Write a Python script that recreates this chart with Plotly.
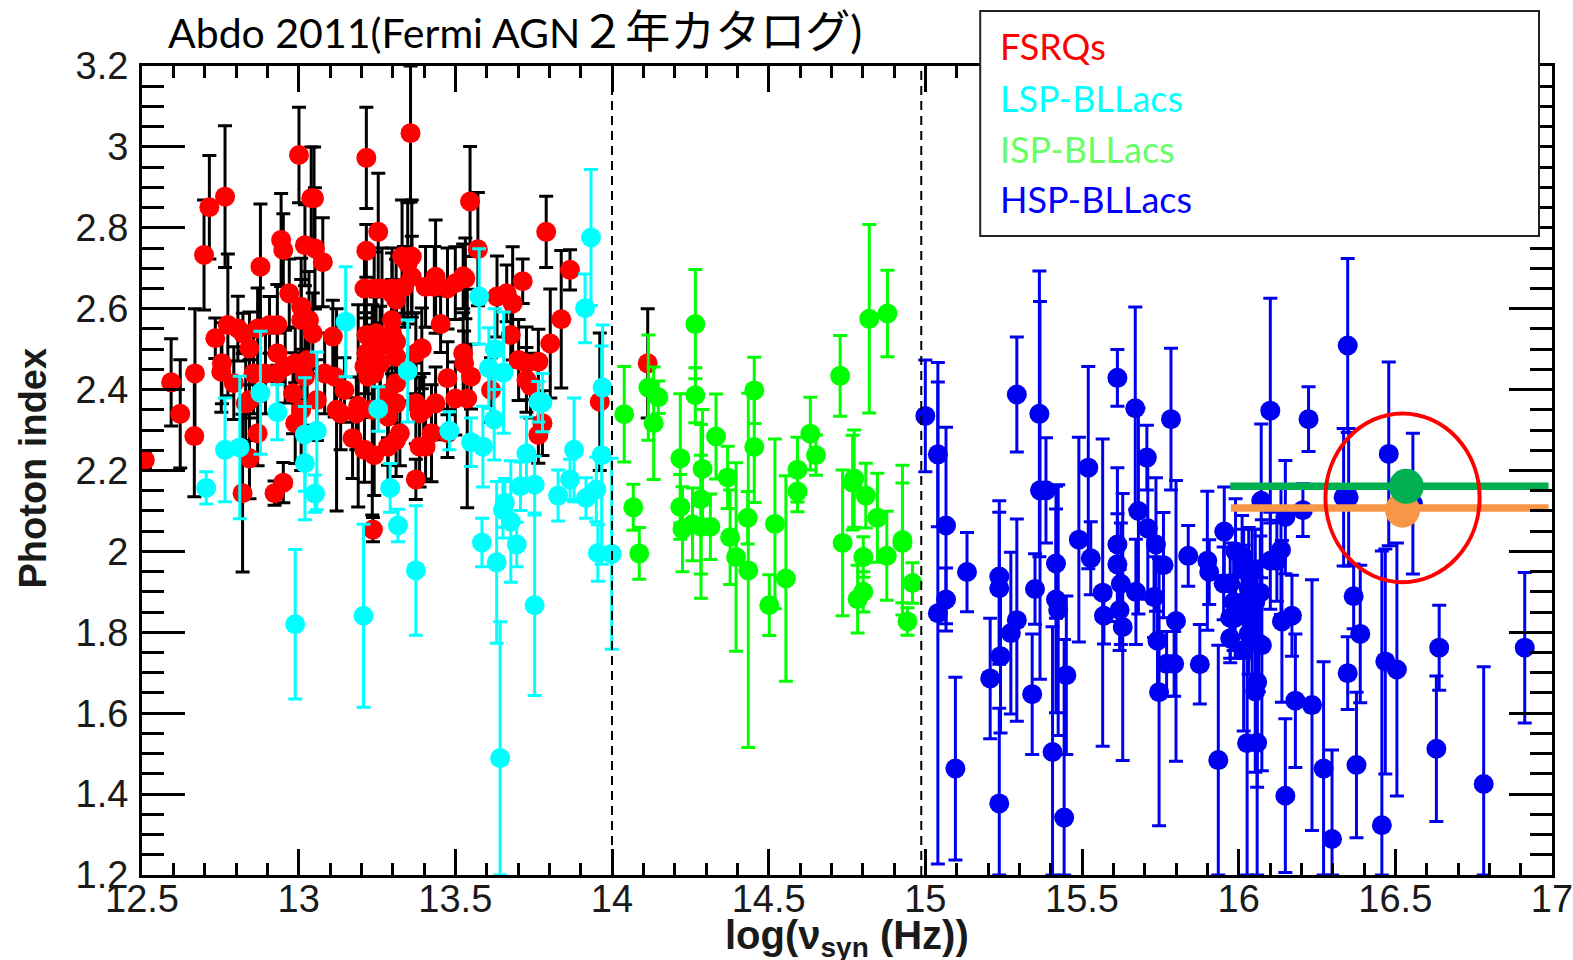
import plotly.graph_objects as go

# ---- FSRQs ----
fsrq_x = [12.509,12.593,12.622,12.669,12.667,12.698,12.715,12.765,12.774,12.734,12.753,12.755,12.878,12.822,12.843,12.907,13.001,13.049,13.04,13.02,12.944,12.951,13.052,13.077,12.97,13.008,13.033,12.932,13.109,12.989,13.027,13.115,12.894,12.843,12.793,12.869,12.982,12.989,13.058,13.146,13.134,13.184,13.172,13.241,13.216,13.216,13.216,13.254,13.216,13.357,13.33,13.361,13.348,13.21,13.266,13.336,13.361,13.298,13.311,13.298,13.393,13.222,13.26,13.311,13.311,13.311,13.323,13.386,13.437,13.5,13.538,13.405,13.475,13.475,13.437,13.433,13.532,13.475,13.547,13.572,13.453,13.528,13.55,13.633,13.683,13.677,13.715,13.79,13.866,13.838,13.803,13.702,13.765,13.727,13.778,13.765,13.614,13.961,12.843,12.923,12.951,12.821,13.237,13.374,13.121,13.19,13.235,14.114,
          12.869,12.806,12.932,13.008,13.045,12.957,12.932,13.02,13.083,13.008,12.856,12.831,13.247,13.26,13.21,13.241,13.285,13.285,13.311,13.285,13.21,13.374,13.399,13.424,13.386,13.525,13.727,13.74,13.664,13.298,13.311,13.374,
          13.241,13.298,13.405,13.5,13.525]
fsrq_y = [2.226,2.418,2.34,2.44,2.285,2.733,2.851,2.877,2.56,2.527,2.444,2.465,2.704,2.539,2.502,2.56,2.98,2.873,2.873,2.757,2.77,2.745,2.749,2.715,2.638,2.572,2.572,2.49,2.531,2.465,2.473,2.432,2.44,2.374,2.416,2.292,2.391,2.317,2.374,2.399,2.341,2.341,2.28,2.238,2.535,2.49,2.973,2.79,2.743,3.034,2.729,2.729,2.712,2.65,2.65,2.654,2.679,2.572,2.622,2.539,2.502,2.432,2.465,2.481,2.416,2.366,2.292,2.341,2.366,2.378,2.378,2.259,2.292,2.428,2.679,2.654,2.675,2.65,2.865,2.747,2.562,2.465,2.432,2.63,2.613,2.535,2.668,2.79,2.696,2.574,2.514,2.473,2.469,2.424,2.317,2.288,2.399,2.37,2.23,2.144,2.17,2.144,2.054,2.178,2.35,2.36,2.35,2.465,
          2.551,2.551,2.56,2.605,2.539,2.457,2.44,2.432,2.44,2.35,2.44,2.366,2.539,2.506,2.457,2.44,2.391,2.333,2.275,2.259,2.251,2.366,2.35,2.292,2.259,2.49,2.465,2.41,2.638,2.638,2.518,2.49,
          2.65,2.65,2.654,2.663,2.68]
fsrq_err = [0.02,0.108,0.134,0.16,0.15,0.136,0.128,0.175,0.175,0.05,0.1,0.1,0.155,0.05,0.09,0.07,0.118,0.127,0.127,0.1,0.115,0.09,0.15,0.11,0.085,0.1,0.12,0.07,0.09,0.09,0.1,0.1,0.1,0.1,0.09,0.08,0.1,0.1,0.1,0.08,0.09,0.09,0.1,0.1,0.1,0.1,0.125,0.145,0.065,0.17,0.14,0.14,0.15,0.1,0.1,0.1,0.1,0.1,0.1,0.1,0.1,0.1,0.1,0.1,0.1,0.1,0.08,0.09,0.09,0.09,0.27,0.08,0.06,0.09,0.14,0.1,0.1,0.1,0.136,0.14,0.07,0.08,0.08,0.1,0.14,0.08,0.055,0.088,0.05,0.17,0.135,0.1,0.08,0.08,0.08,0.07,0.08,0.17,0.1,0.03,0.05,0.195,0.03,0.05,0.25,0.25,0.26,0.135,
            0.1,0.08,0.1,0.12,0.1,0.09,0.1,0.12,0.1,0.15,0.1,0.13,0.09,0.1,0.12,0.1,0.11,0.12,0.09,0.1,0.08,0.1,0.09,0.12,0.1,0.1,0.09,0.08,0.07,0.1,0.09,0.1,
            0.09,0.1,0.1,0.09,0.08]

# ---- LSP-BLLacs ----
lsp_x = [13.933,13.914,13.97,13.576,13.626,13.654,13.607,13.624,13.348,13.15,12.878,12.932,13.02,13.058,13.254,13.481,13.55,13.588,13.778,13.765,13.727,12.765,12.812,13.02,13.879,13.967,12.705,13.052,13.292,13.317,13.374,12.989,13.207,13.585,13.632,13.658,13.652,13.677,13.696,13.753,13.643,13.753,13.828,13.917,13.95,13.955,13.999,13.708,13.866]
lsp_y = [2.776,2.601,2.405,2.63,2.5,2.442,2.453,2.326,2.446,2.568,2.392,2.344,2.289,2.298,2.352,2.298,2.27,2.259,2.368,2.37,2.242,2.251,2.257,2.218,2.251,2.238,2.157,2.143,2.157,2.064,1.953,1.82,1.841,2.022,1.973,2.12,2.103,2.074,2.017,1.867,1.489,2.165,2.138,2.132,2.153,1.996,1.994,2.161,2.178]
lsp_err = [0.168,0.085,0.155,0.118,0.1,0.15,0.1,0.1,0.126,0.136,0.152,0.068,0.14,0.195,0.055,0.047,0.06,0.1,0.072,0.05,0.09,0.128,0.176,0.14,0.128,0.27,0.04,0.046,0.06,0.04,0.16,0.185,0.226,0.06,0.2,0.06,0.07,0.15,0.055,0.223,0.337,0.07,0.063,0.05,0.08,0.07,0.236,0.06,0.05]

# ---- ISP-BLLacs ----
isp_x = [14.039,14.068,14.087,14.116,14.148,14.133,14.266,14.266,14.218,14.218,14.225,14.284,14.289,14.332,14.284,14.314,14.257,14.369,14.377,14.396,14.433,14.435,14.454,14.454,14.52,14.502,14.555,14.592,14.592,14.633,14.651,14.728,14.736,14.821,14.879,14.768,14.773,14.81,14.847,14.802,14.784,14.802,14.877,14.927,14.927,14.959,14.943]
isp_y = [2.339,2.109,1.995,2.405,2.381,2.317,2.562,2.386,2.23,2.11,2.055,2.129,2.204,2.284,2.061,2.061,2.067,2.183,2.035,1.986,2.083,1.953,2.398,2.258,2.068,1.867,1.933,2.202,2.148,2.291,2.238,2.434,2.021,2.575,2.588,2.17,2.18,2.138,2.083,1.986,1.882,1.9,1.989,2.028,2.021,1.922,1.827]
isp_err = [0.118,0.057,0.064,0.13,0.04,0.139,0.135,0.068,0.16,0.08,0.105,0.185,0.147,0.105,0.177,0.081,0.09,0.077,0.117,0.233,0.065,0.438,0.082,0.137,0.21,0.075,0.254,0.08,0.05,0.09,0.05,0.1,0.18,0.233,0.107,0.117,0.12,0.08,0.11,0.05,0.084,0.05,0.11,0.185,0.148,0.05,0.034]

# ---- HSP-BLLacs ----
hsp_x = [15.0,15.04,15.04,15.066,15.066,15.133,15.096,15.236,15.236,15.236,15.207,15.24,15.273,15.292,15.292,15.364,15.366,15.385,15.341,15.35,15.417,15.417,15.424,15.406,15.443,15.45,15.49,15.52,15.528,15.566,15.57,15.613,15.613,15.613,15.624,15.63,15.62,15.67,15.68,15.707,15.71,15.736,15.784,15.672,15.76,15.839,15.9,15.906,15.73,15.741,15.77,15.794,15.8,15.746,15.876,15.935,15.954,16.101,16.072,16.149,16.205,16.223,16.135,16.043,16.101,15.99,15.973,16.016,16.053,15.989,15.973,16.138,16.17,16.016,16.074,16.059,16.053,15.973,16.027,16.059,16.149,16.181,16.234,16.271,16.298,16.348,16.335,16.351,16.367,16.388,16.348,16.376,16.479,16.556,16.468,16.505,16.457,16.64,16.631,16.782,16.913,
         16.016,15.984,16.032,16.069,16.032,16.064,16.122,15.952,16.011,16.043]
hsp_y = [2.335,2.24,1.847,2.064,1.881,1.949,1.463,1.377,1.938,1.909,1.686,1.741,1.798,1.83,2.388,2.34,2.151,2.151,1.647,1.907,1.97,1.881,1.855,1.504,1.342,1.694,2.029,2.207,1.983,1.898,1.841,2.429,2.017,1.968,1.92,1.813,1.855,2.354,2.1,2.232,2.057,2.017,2.327,1.9,1.966,1.989,1.977,1.949,1.887,1.779,1.722,1.722,1.828,1.652,1.721,1.484,2.049,2.348,2.125,2.085,2.102,2.327,2.004,1.955,1.977,2.0,1.921,1.875,1.875,1.836,1.836,1.827,1.841,1.756,1.768,1.677,1.654,1.785,1.526,1.527,1.396,1.631,1.62,1.463,1.289,2.509,2.134,2.134,1.889,1.796,1.699,1.472,2.241,2.118,1.728,1.708,1.323,1.762,1.512,1.425,1.762,
         1.955,1.875,1.909,1.898,1.796,1.773,1.977,1.921,1.989,1.836]
hsp_err = [0.138,0.179,0.62,0.243,0.078,0.098,0.226,0.235,0.187,0.188,0.149,0.19,0.2,0.25,0.142,0.353,0.467,0.13,0.149,0.087,0.135,0.28,0.31,0.31,0.44,0.196,0.253,0.25,0.09,0.38,0.07,0.07,0.19,0.125,0.15,0.33,0.1,0.25,0.255,0.08,0.175,0.165,0.175,0.13,0.13,0.075,0.172,0.08,0.1,0.12,0.08,0.08,0.347,0.33,0.098,0.284,0.11,0.278,0.19,0.14,0.065,0.08,0.16,0.1,0.12,0.13,0.1,0.14,0.18,0.1,0.1,0.2,0.1,0.2,0.31,0.26,0.2,0.06,0.33,0.35,0.19,0.165,0.31,0.264,0.22,0.215,0.17,0.17,0.08,0.17,0.09,0.18,0.227,0.174,0.278,0.313,0.678,0.105,0.18,0.29,0.186,
           0.1,0.12,0.15,0.14,0.1,0.12,0.1,0.09,0.1,0.14]

# ---- highlighted source ----
green_line_x = [15.973, 16.989]
green_line_y = [2.161, 2.161]
orange_line_x = [15.975, 16.989]
orange_line_y = [2.107, 2.107]
green_point = (16.535, 2.161)
orange_point = (16.523, 2.102)

# ---- axes ----
x_ticks = [12.5, 13, 13.5, 14, 14.5, 15, 15.5, 16, 16.5, 17]
x_labels = ["12.5", "13", "13.5", "14", "14.5", "15", "15.5", "16", "16.5", "17"]
y_ticks = [1.2, 1.4, 1.6, 1.8, 2, 2.2, 2.4, 2.6, 2.8, 3, 3.2]
y_labels = ["1.2", "1.4", "1.6", "1.8", "2", "2.2", "2.4", "2.6", "2.8", "3", "3.2"]
x_range = [12.5, 17]
y_range = [1.2, 3.2]

legend_names = ["FSRQs", "LSP-BLLacs", "ISP-BLLacs", "HSP-BLLacs"]
legend_colors = ["#FF0000", "#00FFFF", "#66FF66", "#0000FF"]

fig = go.Figure()


def series(x, y, err, marker_color, bar_color, capw):
    up = [min(e, y_range[1] - v) for v, e in zip(y, err)]
    lo = [min(e, v - y_range[0]) for v, e in zip(y, err)]
    fig.add_trace(go.Scatter(
        x=x, y=y, mode="markers",
        marker=dict(color=marker_color, size=20, symbol="circle", line=dict(width=0)),
        error_y=dict(type="data", symmetric=False, array=up, arrayminus=lo,
                     color=bar_color, thickness=3, width=capw),
        showlegend=False, hoverinfo="skip"))


series(fsrq_x, fsrq_y, fsrq_err, "#FF0000", "#000000", 7)
series(lsp_x, lsp_y, lsp_err, "#00FFFF", "#00FFFF", 7)
series(isp_x, isp_y, isp_err, "#00FF00", "#00FF00", 7)
series(hsp_x, hsp_y, hsp_err, "#0000F0", "#0000F0", 7)

fig.add_trace(go.Scatter(x=[orange_point[0]], y=[orange_point[1]], mode="markers",
                         marker=dict(color="#F79646", size=35, line=dict(width=0)),
                         showlegend=False, hoverinfo="skip"))
fig.add_trace(go.Scatter(x=orange_line_x, y=orange_line_y, mode="lines",
                         line=dict(color="#F79646", width=7.5),
                         showlegend=False, hoverinfo="skip"))
fig.add_trace(go.Scatter(x=green_line_x, y=green_line_y, mode="lines",
                         line=dict(color="#00B050", width=7.5),
                         showlegend=False, hoverinfo="skip"))
fig.add_trace(go.Scatter(x=[green_point[0]], y=[green_point[1]], mode="markers",
                         marker=dict(color="#00B050", size=35, line=dict(width=0)),
                         showlegend=False, hoverinfo="skip"))

axis_font = dict(family="Liberation Sans, Arial, sans-serif", size=38, color="#1a1a1a")
common = dict(showgrid=False, zeroline=False, showline=True, linecolor="#000000", linewidth=3,
              mirror="ticks", ticks="inside", tickcolor="#000000", tickfont=axis_font,
              ticklabeloverflow="allow")

fig.update_xaxes(range=x_range, tickvals=x_ticks, ticktext=x_labels, ticklen=26, tickwidth=3,
                 ticklabelstandoff=-12,
                 minor=dict(ticks="inside", dtick=0.1, tick0=12.5, ticklen=12, tickwidth=3,
                            tickcolor="#000000", showgrid=False),
                 **common)
fig.update_yaxes(range=y_range, tickvals=y_ticks, ticktext=y_labels, ticklen=43, tickwidth=3,
                 ticklabelstandoff=3,
                 minor=dict(ticks="inside", dtick=0.05, tick0=1.2, ticklen=22, tickwidth=3,
                            tickcolor="#000000", showgrid=False),
                 **common)

shapes = [
    dict(type="line", xref="x", yref="paper", x0=14, x1=14, y0=0, y1=1,
         line=dict(color="#000000", width=2, dash="9px,6px"), layer="above"),
    dict(type="line", xref="x", yref="paper", x0=14.987, x1=14.987, y0=0, y1=1,
         line=dict(color="#000000", width=2, dash="9px,6px"), layer="above"),
    dict(type="circle", xref="x", yref="y", x0=16.277, x1=16.769, y0=1.924, y1=2.341,
         line=dict(color="#FF0000", width=4), layer="above"),
    # legend box
    dict(type="rect", xref="paper", yref="paper",
         x0=(980 - 141.5) / 1410.5, x1=(1539 - 141.5) / 1410.5,
         y0=(875 - 236) / 809, y1=(875 - 11) / 809,
         fillcolor="#FFFFFF", line=dict(color="#222222", width=2), layer="above"),
]

latin = "Lato, Noto Sans CJK JP, sans-serif"
annotations = [
    dict(text='Abdo 2011(Fermi AGN<span style="font-size:45px">２年カタログ)</span>',
         xref="paper", yref="paper",
         x=(166 - 141.5) / 1410.5, y=(875 - 60) / 809, xanchor="left", yanchor="bottom",
         showarrow=False, font=dict(family=latin, size=41, color="#000000")),
    dict(text="Photon index", xref="paper", yref="paper",
         x=(32 - 141.5) / 1410.5, y=(875 - 468) / 809, xanchor="center", yanchor="middle",
         textangle=-90, showarrow=False,
         font=dict(family="Liberation Sans, Arial, sans-serif", size=38, color="#1a1a1a", weight="bold")),
    dict(text="log(ν<sub>syn</sub> (Hz))", xref="paper", yref="paper",
         x=(847 - 141.5) / 1410.5, y=(875 - 938) / 809, xanchor="center", yanchor="middle",
         showarrow=False,
         font=dict(family="Liberation Sans, Arial, sans-serif", size=40, color="#1a1a1a", weight="bold")),
]
baselines = [60, 112, 163, 213]
for name, color, base in zip(legend_names, legend_colors, baselines):
    annotations.append(dict(text=name, xref="paper", yref="paper",
                            x=(998 - 141.5) / 1410.5, y=(875 - base - 10) / 809,
                            xanchor="left", yanchor="bottom", showarrow=False,
                            font=dict(family=latin, size=36, color=color)))

fig.update_layout(width=1573, height=960, autosize=False,
                  margin=dict(l=141.5, r=21, t=66, b=85, pad=0, autoexpand=False),
                  paper_bgcolor="#FFFFFF", plot_bgcolor="#FFFFFF",
                  shapes=shapes, annotations=annotations, showlegend=False)

fig.write_html("out.html", config={"displayModeBar": False},
               post_script="document.body.style.margin='0';document.body.style.overflow='hidden';")
